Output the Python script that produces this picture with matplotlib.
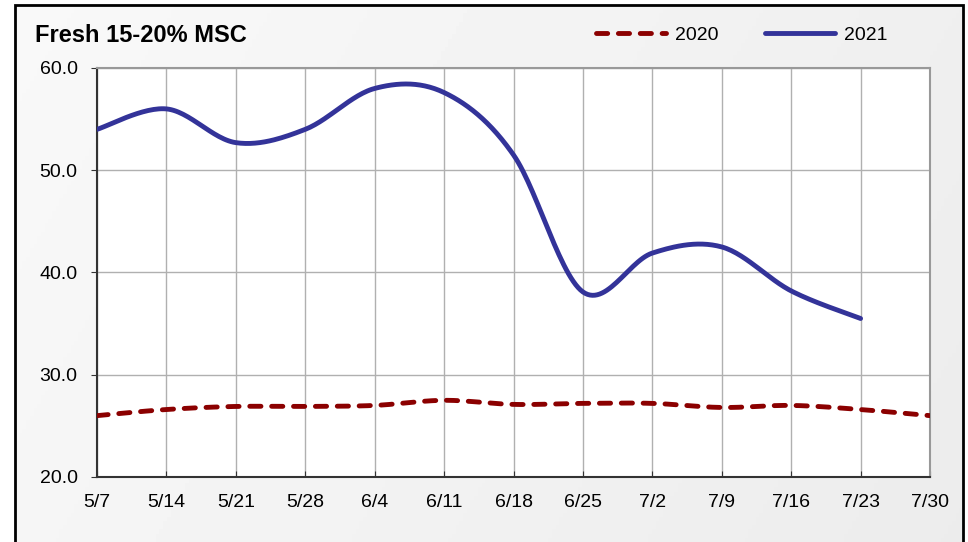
import numpy as np
import matplotlib
matplotlib.use("Agg")
import matplotlib.pyplot as plt
from matplotlib.lines import Line2D
from matplotlib.patches import Rectangle

# data
weeks = ["5/7", "5/14", "5/21", "5/28", "6/4", "6/11", "6/18",
         "6/25", "7/2", "7/9", "7/16", "7/23", "7/30"]
msc_2020 = [26.0, 26.6, 26.9, 26.9, 27.0, 27.5, 27.1, 27.2, 27.2, 26.8, 27.0, 26.6, 26.0]
msc_2021 = [54.0, 56.0, 52.7, 54.0, 58.0, 57.6, 51.5, 38.1, 41.9, 42.5, 38.2, 35.5]

plt.rcParams["font.family"] = ["Liberation Sans", "DejaVu Sans"]

RED = "#8b0000"
BLUE = "#333399"
DASH = (0, (2.3, 2.2))


def smooth(y, n=30):
    """Excel-like smoothed line (Catmull-Rom style bezier)."""
    y = np.asarray(y, dtype=float)
    x = np.arange(len(y), dtype=float)
    xs, ys = [], []
    for i in range(len(y) - 1):
        p0 = np.array([x[max(i - 1, 0)], y[max(i - 1, 0)]])
        p1 = np.array([x[i], y[i]])
        p2 = np.array([x[i + 1], y[i + 1]])
        p3 = np.array([x[min(i + 2, len(y) - 1)], y[min(i + 2, len(y) - 1)]])
        c1 = p1 + (p2 - p0) / 6
        c2 = p2 - (p3 - p1) / 6
        t = np.linspace(0, 1, n)[:, None]
        pts = ((1 - t) ** 3 * p1 + 3 * (1 - t) ** 2 * t * c1
               + 3 * (1 - t) * t ** 2 * c2 + t ** 3 * p2)
        xs.append(pts[:, 0])
        ys.append(pts[:, 1])
    return np.concatenate(xs), np.concatenate(ys)


fig = plt.figure(figsize=(9.68, 5.42), dpi=100)
fig.patch.set_facecolor("white")

# light gray diagonal gradient inside the outer border
box = [15 / 968, 0, 948 / 968, 1 - 5 / 542]
bg = fig.add_axes(box, zorder=-2)
gx, gy = np.meshgrid(np.linspace(0, 1, 256), np.linspace(0, 1, 128))
grad = 0.975 - 0.05 * (0.75 * gx + 0.25 * gy)
bg.imshow(grad, cmap="gray", vmin=0, vmax=1, aspect="auto", extent=[0, 1, 0, 1])
bg.set_axis_off()
fig.add_artist(Rectangle((15 / 968, -0.05), 948 / 968, 1.05 - 5 / 542,
                         transform=fig.transFigure, fill=False,
                         edgecolor="black", linewidth=2))

ax = fig.add_axes([97 / 968, 1 - 477 / 542, 833 / 968, 409 / 542])
ax.set_facecolor("white")

x20, y20 = smooth(msc_2020)
x21, y21 = smooth(msc_2021)
ax.plot(x20, y20, color=RED, lw=3.5, ls=DASH, dash_capstyle="round", zorder=3)
ax.plot(x21, y21, color=BLUE, lw=3.5, solid_capstyle="round", zorder=4)

ax.set_xlim(0, len(weeks) - 1)
ax.set_ylim(20, 60)
ax.set_xticks(range(len(weeks)))
ax.set_xticklabels(weeks, fontsize=14)
ax.set_yticks([20, 30, 40, 50, 60])
ax.set_yticklabels([f"{v:.1f}" for v in [20, 30, 40, 50, 60]], fontsize=14)
ax.grid(True, color="#b0b0b0", lw=1)
ax.tick_params(axis="x", length=4, direction="in", pad=12, color="#333333")
ax.tick_params(axis="y", length=4, direction="out", pad=10, color="#333333")
for side in ["left", "bottom"]:
    ax.spines[side].set_color("#333333")
    ax.spines[side].set_linewidth(1.5)
for side in ["top", "right"]:
    ax.spines[side].set_color("#999999")
    ax.spines[side].set_linewidth(1.5)

fig.text(35 / 968, 1 - 35 / 542, "Fresh 15-20% MSC", fontsize=17, fontweight="bold",
         va="center", ha="left")

handles = [Line2D([], [], color=RED, lw=3.5, ls=DASH, dash_capstyle="round"),
           Line2D([], [], color=BLUE, lw=3.5, solid_capstyle="round")]
fig.legend(handles, ["2020", "2021"], loc="center", bbox_to_anchor=(742 / 968, 1 - 35 / 542),
           ncol=2, frameon=False, fontsize=14, handlelength=3.6, handletextpad=0.45,
           columnspacing=2.4)

fig.savefig("out.png", dpi=100)
